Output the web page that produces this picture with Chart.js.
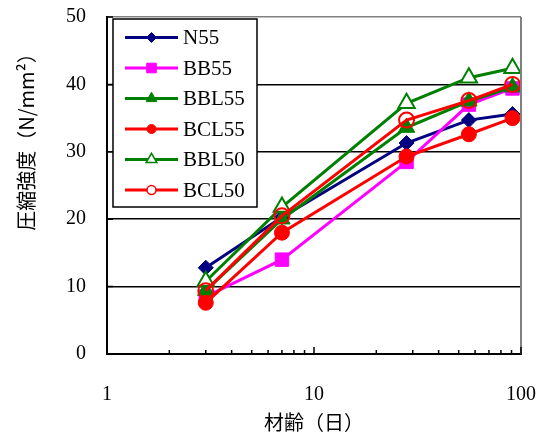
<!DOCTYPE html>
<html>
<head>
<meta charset="utf-8">
<script src="https://cdn.jsdelivr.net/npm/chart.js@4/dist/chart.umd.min.js"></script>
<style>
  html, body { margin: 0; padding: 0; background: #fff; }
  #wrap { width: 545px; height: 438px; }
</style>
</head>
<body>
<div id="wrap"><canvas id="c" width="545" height="438"></canvas></div>
<script>
// Curing age (days) and compressive strength (N/mm²) per mix
const ages = [3, 7, 28, 56, 91];
const n55   = [12.8, 20.3, 31.3, 34.7, 35.6];
const bb55  = [8.5, 14.0, 28.5, 37.0, 39.4];
const bbl55 = [9.4, 20.0, 33.6, 37.5, 39.6];
const bcl55 = [7.6, 18.0, 29.3, 32.6, 35.0];
const bbl50 = [10.8, 21.8, 37.2, 41.0, 42.4];
const bcl50 = [9.4, 20.5, 34.7, 37.6, 40.0];
const seriesNames = ['N55', 'BB55', 'BBL55', 'BCL55', 'BBL50', 'BCL50'];
const xTickValues = [1, 10, 100];
const xMinorTicks = [2, 3, 4, 5, 6, 7, 8, 9, 20, 30, 40, 50, 60, 70, 80, 90];
const yTickValues = [0, 10, 20, 30, 40, 50];

const SERIF = '"Liberation Serif", "Times New Roman", serif';
const CJK = '"Noto Sans CJK JP", sans-serif';

const NAVY = '#000080', MAGENTA = '#FF00FF', GREEN = '#008000', RED = '#FF0000';

function pts(values) { return ages.map((a, i) => ({ x: a, y: values[i] })); }

function series(label, values, color, style, radius, fill, order, legendRadius) {
  return {
    label, data: pts(values), showLine: true, tension: 0,
    borderColor: color, borderWidth: 3,
    pointStyle: style, pointRadius: radius,
    pointBackgroundColor: fill, pointBorderColor: color,
    pointBorderWidth: fill === color ? 1 : 2,
    order, legendRadius
  };
}

const datasets = [
  series(seriesNames[0], n55,   NAVY,    'rectRot',  7.5, NAVY,    6, 5),
  series(seriesNames[1], bb55,  MAGENTA, 'rect',     9.5, MAGENTA, 5, 6.8),
  series(seriesNames[2], bbl55, GREEN,   'triangle', 9.5, GREEN,   4, 6.2),
  series(seriesNames[3], bcl55, RED,     'circle',   7.5, RED,     3, 4.5),
  series(seriesNames[4], bbl50, GREEN,   'triangle', 9.5, '#FFFFFF', 2, 6.2),
  series(seriesNames[5], bcl50, RED,     'circle',   7.5, 'rgba(0,0,0,0)', 1, 4.5)
];

function drawMarker(ctx, style, x, y, r, fill, stroke, bw) {
  ctx.beginPath();
  if (style === 'rectRot') {
    ctx.moveTo(x, y - r); ctx.lineTo(x + r, y); ctx.lineTo(x, y + r); ctx.lineTo(x - r, y);
    ctx.closePath();
  } else if (style === 'rect') {
    const s = r * Math.SQRT1_2;
    ctx.rect(x - s, y - s, 2 * s, 2 * s);
  } else if (style === 'triangle') {
    let a = 0;
    ctx.moveTo(x + Math.sin(a) * r, y - Math.cos(a) * r);
    a += 2 * Math.PI / 3; ctx.lineTo(x + Math.sin(a) * r, y - Math.cos(a) * r);
    a += 2 * Math.PI / 3; ctx.lineTo(x + Math.sin(a) * r, y - Math.cos(a) * r);
    ctx.closePath();
  } else {
    ctx.arc(x, y, r, 0, Math.PI * 2);
  }
  ctx.fillStyle = fill; ctx.fill();
  ctx.lineWidth = bw; ctx.strokeStyle = stroke; ctx.stroke();
}

function noOverhang(s) {
  s.paddingTop = 0; s.paddingBottom = 0; s.paddingLeft = 0; s.paddingRight = 0;
}

const framePlugin = {
  id: 'frame',
  afterDatasetsDraw(chart) {
    const ctx = chart.ctx, a = chart.chartArea;
    const xs = chart.scales.x, ys = chart.scales.y;
    ctx.save();
    // right edge of the plot frame
    ctx.strokeStyle = '#808080'; ctx.lineWidth = 2;
    ctx.beginPath(); ctx.moveTo(a.right, a.top); ctx.lineTo(a.right, a.bottom); ctx.stroke();
    // inward tick marks on the x axis
    ctx.strokeStyle = '#000'; ctx.lineWidth = 1.5;
    ctx.beginPath();
    xMinorTicks.forEach(v => { const px = xs.getPixelForValue(v); ctx.moveTo(px, a.bottom); ctx.lineTo(px, a.bottom - 4); });
    xTickValues.forEach(v => { const px = xs.getPixelForValue(v); ctx.moveTo(px, a.bottom); ctx.lineTo(px, a.bottom - 7); });
    // inward tick marks on the y axis
    yTickValues.forEach(v => { const py = ys.getPixelForValue(v); ctx.moveTo(a.left, py); ctx.lineTo(a.left + 6, py); });
    ctx.stroke();

    // legend box
    const lx = a.left + 6, ly = a.top + 2, lw = 144, lh = 188;
    ctx.fillStyle = '#fff'; ctx.fillRect(lx, ly, lw, lh);
    ctx.strokeStyle = '#000'; ctx.lineWidth = 1.5; ctx.strokeRect(lx, ly, lw, lh);
    ctx.font = '21px ' + SERIF; ctx.textBaseline = 'middle'; ctx.textAlign = 'left';
    chart.data.datasets.forEach((ds, i) => {
      const y = ly + 18.5 + i * 30.5;
      ctx.strokeStyle = ds.borderColor; ctx.lineWidth = 3;
      ctx.beginPath(); ctx.moveTo(lx + 12, y); ctx.lineTo(lx + 65, y); ctx.stroke();
      const fill = ds.pointBackgroundColor === 'rgba(0,0,0,0)' ? '#fff' : ds.pointBackgroundColor;
      drawMarker(ctx, ds.pointStyle, lx + 38.5, y, ds.legendRadius, fill, ds.pointBorderColor, ds.pointBorderWidth === 1 ? 1 : 1.5);
      ctx.fillStyle = '#000';
      ctx.fillText(ds.label, lx + 70, y + 1);
    });
    ctx.restore();
  },
  afterDraw(chart) {
    const ctx = chart.ctx;
    ctx.save();
    ctx.translate(26, 137);
    ctx.rotate(-Math.PI / 2);
    ctx.font = '20px ' + CJK; ctx.fillStyle = '#000';
    ctx.textAlign = 'center'; ctx.textBaseline = 'middle';
    ctx.fillText('圧縮強度（N/mm²）', 0, 0);
    ctx.restore();
  }
};

new Chart(document.getElementById('c'), {
  type: 'scatter',
  data: { datasets },
  options: {
    responsive: false, animation: false, devicePixelRatio: 1, events: [],
    layout: { padding: { left: 0, top: 17, right: 24, bottom: 0 } },
    plugins: { legend: { display: false }, tooltip: { enabled: false } },
    scales: {
      x: {
        type: 'logarithmic', min: 1, max: 100, position: 'bottom',
        afterBuildTicks: s => { s.ticks = xTickValues.map(v => ({ value: v })); },
        afterFit: s => { s.height = 84; noOverhang(s); },
        grid: { display: true, drawOnChartArea: false, drawTicks: false, color: 'rgba(0,0,0,0)' },
        border: { display: true, color: '#000', width: 2 },
        ticks: { font: { family: SERIF, size: 20 }, color: '#000', padding: 29, maxRotation: 0, autoSkip: false,
                 callback: v => String(v) },
        title: { display: true, text: '材齢（日）', font: { family: CJK, size: 20 }, color: '#000',
                 padding: { top: 0, bottom: 4 } }
      },
      y: {
        min: 0, max: 50,
        afterBuildTicks: s => { s.ticks = yTickValues.map(v => ({ value: v })); },
        afterFit: s => { s.width = 107; noOverhang(s); },
        grid: { drawTicks: false, lineWidth: 1.5,
                color: c => c.tick.value === 50 ? '#808080' : (c.tick.value === 0 ? 'rgba(0,0,0,0)' : '#000') },
        border: { display: true, color: '#000', width: 2 },
        ticks: { font: { family: SERIF, size: 20 }, color: '#000', padding: 21 }
      }
    }
  },
  plugins: [framePlugin]
});
</script>
</body>
</html>
